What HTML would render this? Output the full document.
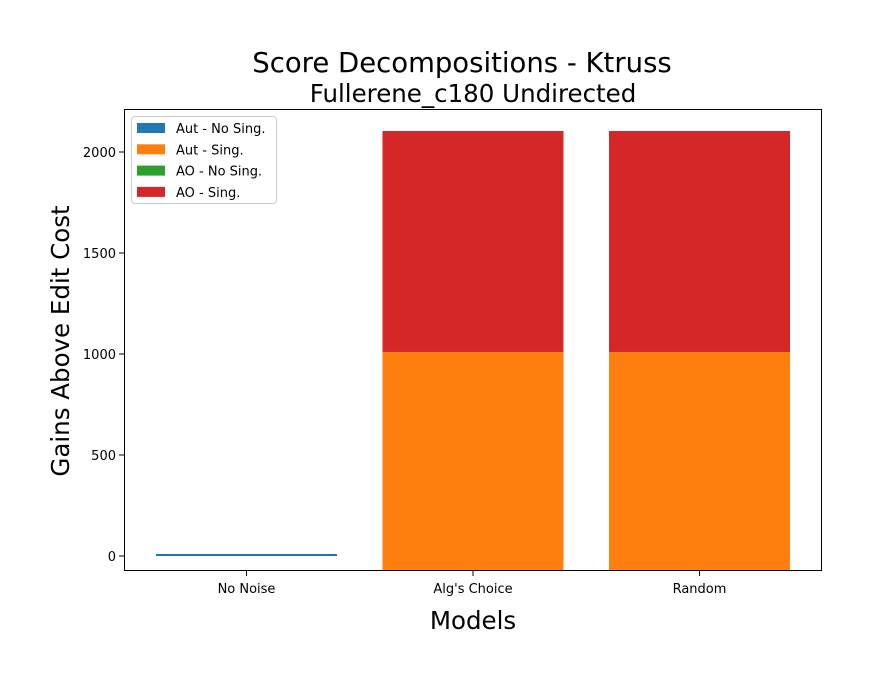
<!DOCTYPE html>
<html><head><meta charset="utf-8"><style>
body{margin:0;background:#fff}
svg{display:block;font-family:"DejaVu Sans","Liberation Sans",sans-serif}
</style></head><body>
<svg id="chart" width="871" height="683" viewBox="0 0 871 683">
<rect width="871" height="683" fill="#fff"/>
<text x="462" y="72" font-size="27.5" text-anchor="middle">Score Decompositions - Ktruss</text>
<text x="473" y="102" font-size="24.5" text-anchor="middle">Fullerene_c180 Undirected</text>
<defs><clipPath id="clip"><rect x="124" y="109" width="698" height="462"/></clipPath></defs>
<g id="plot"></g>
<text x="473" y="629" font-size="24.5" text-anchor="middle">Models</text>
<text transform="translate(69,341) rotate(-90)" font-size="24.5" text-anchor="middle">Gains Above Edit Cost</text>
</svg>
<script>
const categories = ["No Noise", "Alg's Choice", "Random"];
const seriesNames = ["Aut - No Sing.", "Aut - Sing.", "AO - No Sing.", "AO - Sing."];
const barBottom = [0, -100, -100];
const autNoSing = [10, 0, 0];
const autSing = [0, 1110, 1110];
const aoNoSing = [0, 0, 0];
const aoSing = [0, 1094, 1094];
const yTicks = [0, 500, 1000, 1500, 2000];
const colors = ["#1f77b4", "#ff7f0e", "#2ca02c", "#d62728"];

const NS = "http://www.w3.org/2000/svg";
const L = 124, R = 822, T = 109, B = 571;
const y = v => 556 - v * 0.202;
const x = i => 246.5 + i * 226.5;
const bw = 181;
const g = document.getElementById('plot');
function mk(tag, attrs, parent) {
  const e = document.createElementNS(NS, tag);
  for (const k in attrs) e.setAttribute(k, attrs[k]);
  (parent || g).appendChild(e);
  return e;
}
const bars = mk('g', {'clip-path': 'url(#clip)'});


const series = [autNoSing, autSing, aoNoSing, aoSing];
categories.forEach((c, i) => {
  let base = barBottom[i];
  series.forEach((s, j) => {
    const v = s[i];
    if (v > 0) {
      const r = mk('rect', {x: x(i) - bw / 2, y: y(base + v), width: bw, height: y(base) - y(base + v), fill: colors[j]}, bars);
      
      
    }
    base += v;
  });
  const t = mk('line', {x1: x(i), x2: x(i), y1: B, y2: B + 5, stroke: '#000'});
  
  
  const lb = mk('text', {x: x(i), y: B + 22, 'font-size': 13, 'text-anchor': 'middle'});
  lb.textContent = c;
  
  
});
yTicks.forEach(v => {
  const t = mk('line', {x1: L - 5, x2: L, y1: y(v), y2: y(v), stroke: '#000'});
  
  
  const lb = mk('text', {x: L - 8, y: y(v) + 5, 'font-size': 13, 'text-anchor': 'end'});
  lb.textContent = v;
  
  
});
const frame = mk('rect', {x: L + 0.5, y: T + 0.5, width: R - L - 1, height: B - T - 1, fill: 'none', stroke: '#000', 'stroke-width': 1});


const lg = mk('g', {});


mk('rect', {x: 131.5, y: 116.5, width: 145, height: 87, rx: 3, fill: '#fff', stroke: '#ccc'}, lg);
seriesNames.forEach((n, j) => {
  const sw = mk('rect', {x: 137, y: 123 + j * 21.3, width: 28, height: 10, fill: colors[j]}, lg);
  
  
  const t = mk('text', {x: 176, y: 133 + j * 21.3, 'font-size': 13}, lg);
  t.textContent = n;
  
  
});
</script>
</body></html>
